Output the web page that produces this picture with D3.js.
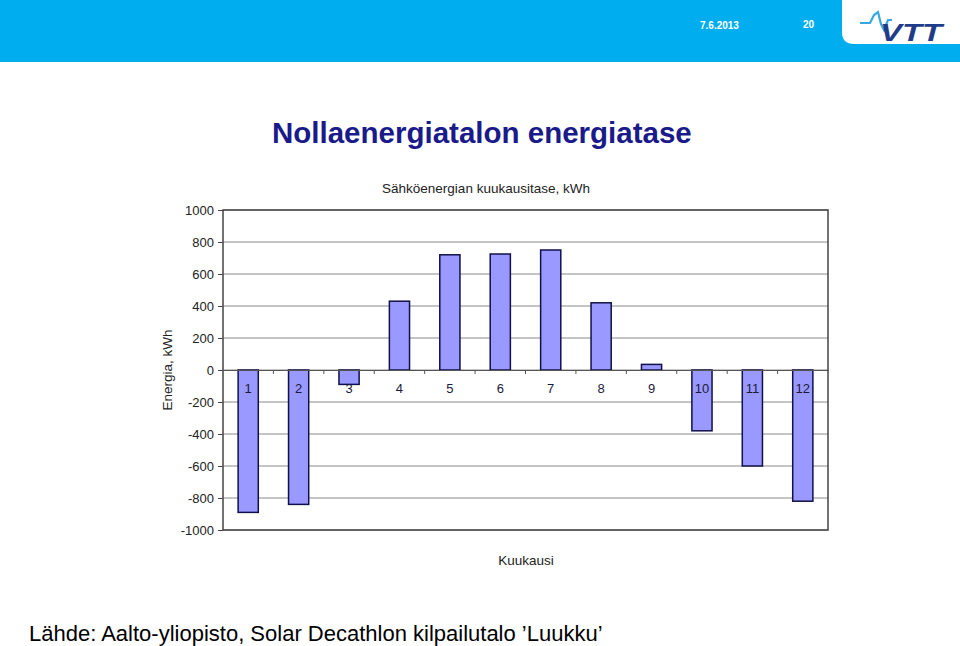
<!DOCTYPE html>
<html><head><meta charset="utf-8">
<script src="https://cdn.jsdelivr.net/npm/d3@7"></script>
<style>body{margin:0;background:#fff;} svg{display:block;font-family:Arial,"Liberation Sans",sans-serif;}</style>
</head><body>
<svg id="c" width="960" height="646"></svg>
<script>
const months = ["1","2","3","4","5","6","7","8","9","10","11","12"];
const values = [-890,-840,-90,430,720,725,750,420,35,-380,-600,-820];
const yTicks = [1000,800,600,400,200,0,-200,-400,-600,-800,-1000];

const svg = d3.select("#c");
// header
svg.append("rect").attr("x",0).attr("y",0).attr("width",960).attr("height",62).attr("fill","#00aeef");
svg.append("path").attr("d","M842,0 H960 V44 H854 Q842,44 842,32 Z").attr("fill","#fff");
svg.append("text").attr("x",700).attr("y",29).attr("fill","#fff").attr("font-size",10).attr("font-weight","bold").text("7.6.2013");
svg.append("text").attr("x",803).attr("y",28).attr("fill","#fff").attr("font-size",10).attr("font-weight","bold").text("20");
// logo
svg.append("path").attr("d","M860,23 H870 L874,15 L878,12 L881,24 L884,30 L888,20 H892")
  .attr("fill","none").attr("stroke","#3aa8e0").attr("stroke-width",2.2);
svg.append("text").attr("x",880).attr("y",41).attr("fill","#1f3c88").attr("font-size",24).attr("font-weight","bold").attr("font-style","italic").attr("textLength",62).attr("lengthAdjust","spacingAndGlyphs").text("VTT");

// title
svg.append("text").attr("x",272).attr("y",143).attr("fill","#1a1a8a").attr("font-size",29.5).attr("font-weight","bold").text("Nollaenergiatalon energiatase");

// chart
const m = {l:223, r:828, t:210, b:530};
const x = d3.scaleBand().domain(months).range([m.l,m.r]).paddingInner(0.6).paddingOuter(0.3);
const y = d3.scaleLinear().domain([-1000,1000]).range([m.b,m.t]);

const g = svg.append("g");
// gridlines
g.selectAll(".grid").data(yTicks).join("line")
  .attr("x1",m.l).attr("x2",m.r).attr("y1",d=>y(d)).attr("y2",d=>y(d))
  .attr("stroke","#8a8a8a").attr("stroke-width",1);
// y axis
const ya = g.append("g").attr("transform",`translate(${m.l},0)`)
  .call(d3.axisLeft(y).tickValues(yTicks).tickSize(5).tickPadding(4).tickFormat(d=>String(d)));
ya.select(".domain").remove();
ya.selectAll("line").attr("stroke","#444");
ya.selectAll("text").attr("font-size",13).attr("fill","#222").attr("font-family","Arial, 'Liberation Sans', sans-serif");

// bars
g.selectAll(".bar").data(values).join("rect")
  .attr("x",(d,i)=>x(months[i])).attr("width",x.bandwidth())
  .attr("y",d=>y(Math.max(0,d))).attr("height",d=>Math.abs(y(d)-y(0)))
  .attr("fill","#9999ff").attr("stroke","#10104a").attr("stroke-width",1.5);

// x axis at zero
const xa = g.append("g").attr("transform",`translate(0,${y(0)})`)
  .call(d3.axisBottom(x).tickSize(0).tickPadding(14));
xa.select(".domain").attr("stroke","#555");
xa.selectAll("text").attr("font-size",13).attr("fill","#1a1a3a").attr("font-family","Arial, 'Liberation Sans', sans-serif");
// category boundary ticks
g.selectAll(".ct").data(d3.range(1,12)).join("line")
  .attr("x1",d=>m.l+d*(m.r-m.l)/12).attr("x2",d=>m.l+d*(m.r-m.l)/12)
  .attr("y1",y(0)).attr("y2",y(0)+4).attr("stroke","#555");

// border
svg.append("rect").attr("x",m.l).attr("y",m.t).attr("width",m.r-m.l).attr("height",m.b-m.t)
  .attr("fill","none").attr("stroke","#444").attr("stroke-width",1.5);

svg.append("text").attr("x",486).attr("y",193).attr("text-anchor","middle").attr("font-size",13.5).attr("fill","#222").text("Sähköenergian kuukausitase, kWh");
svg.append("text").attr("transform","translate(172,370) rotate(-90)").attr("text-anchor","middle").attr("font-size",13.5).attr("fill","#222").text("Energia, kWh");
svg.append("text").attr("x",526).attr("y",565).attr("text-anchor","middle").attr("font-size",13.5).attr("fill","#222").text("Kuukausi");

svg.append("text").attr("x",29).attr("y",641).attr("font-size",22).attr("fill","#000").text("Lähde: Aalto-yliopisto, Solar Decathlon kilpailutalo ’Luukku’");
</script>
</body></html>
